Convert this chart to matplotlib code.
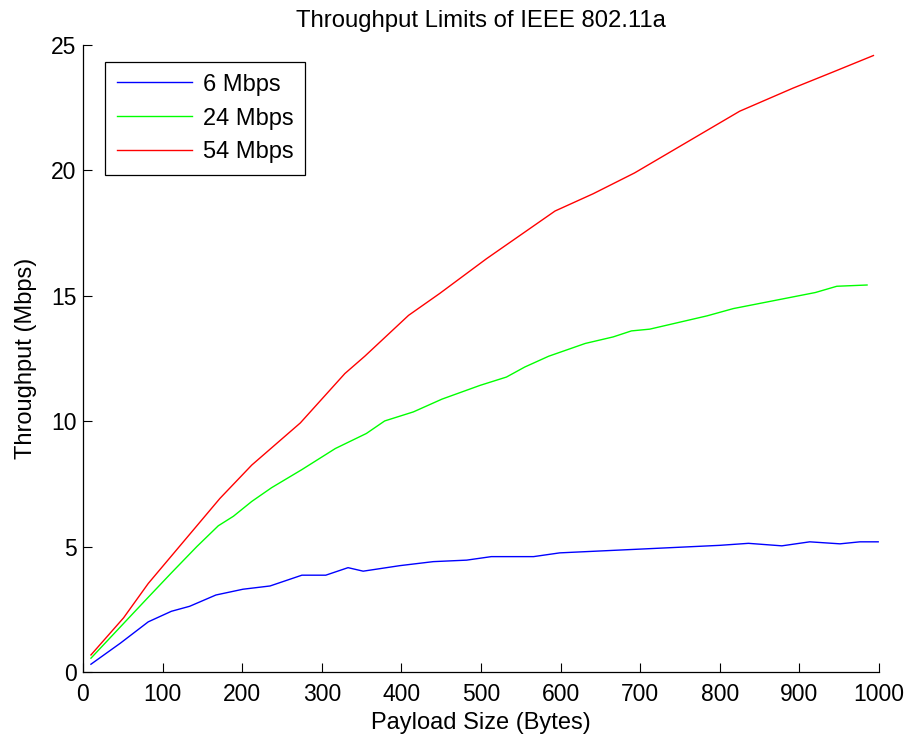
import matplotlib
matplotlib.use("Agg")
import matplotlib.pyplot as plt

# payload size (bytes) vs throughput (Mbps)
x_6 = [10, 47, 82, 111, 134, 167, 201, 235, 275, 305, 333, 352, 398, 440,
       482, 513, 566, 599, 700, 800, 836, 878, 913, 951, 976, 999]
y_6 = [0.31, 1.15, 2.0, 2.42, 2.62, 3.07, 3.3, 3.43, 3.86, 3.86, 4.16, 4.02,
       4.24, 4.4, 4.46, 4.6, 4.6, 4.75, 4.9, 5.05, 5.13, 5.03, 5.19, 5.11,
       5.19, 5.19]

x_24 = [10, 47, 82, 111, 143, 170, 189, 212, 237, 275, 317, 356, 379, 415,
        451, 499, 532, 555, 585, 631, 666, 689, 712, 784, 817, 920, 947, 985]
y_24 = [0.55, 1.8, 2.98, 3.95, 5.0, 5.83, 6.21, 6.8, 7.35, 8.07, 8.91, 9.51,
        10.01, 10.37, 10.88, 11.43, 11.76, 12.16, 12.59, 13.1, 13.36, 13.6,
        13.67, 14.2, 14.49, 15.13, 15.38, 15.43]

x_54 = [10, 51, 82, 172, 212, 273, 329, 354, 409, 448, 507, 593, 641, 693,
        825, 892, 942, 993]
y_54 = [0.68, 2.16, 3.53, 6.92, 8.25, 9.93, 11.9, 12.59, 14.22, 15.09, 16.48,
        18.38, 19.07, 19.9, 22.36, 23.28, 23.92, 24.58]

plt.rcParams['font.family'] = ['Liberation Sans', 'DejaVu Sans']

fig = plt.figure(figsize=(9.14, 7.4), dpi=100)
ax = fig.add_axes([0.0908, 0.0919, 0.8709, 0.8473])

ax.plot(x_6, y_6, color=(0, 0, 1), lw=1.0, label='6 Mbps')
ax.plot(x_24, y_24, color=(0, 1, 0), lw=1.0, label='24 Mbps')
ax.plot(x_54, y_54, color=(1, 0, 0), lw=1.0, label='54 Mbps')

ax.set_xlim(0, 1000)
ax.set_ylim(0, 25)
ax.set_xticks(range(0, 1001, 100))
ax.set_yticks(range(0, 26, 5))
ax.tick_params(direction='in', length=6.5, width=0.8, labelsize=16.5)
ax.tick_params(axis='x', pad=8)
ax.tick_params(axis='y', pad=4.5)
for s in ['top', 'right']:
    ax.spines[s].set_visible(False)
for s in ['left', 'bottom']:
    ax.spines[s].set_linewidth(0.9)

ax.set_title('Throughput Limits of IEEE 802.11a', fontsize=17.2, pad=13)
ax.set_xlabel('Payload Size (Bytes)', fontsize=17, labelpad=4)
ax.set_ylabel('Throughput (Mbps)', fontsize=17, labelpad=10)

leg = ax.legend(loc='upper left', bbox_to_anchor=(0.0276, 0.973),
                fontsize=17, fancybox=False, framealpha=1,
                edgecolor='black', handlelength=3.2, handletextpad=0.45,
                borderpad=0.5, labelspacing=0.5, borderaxespad=0)
leg.get_frame().set_linewidth(0.9)

fig.savefig('out.png', dpi=100)
